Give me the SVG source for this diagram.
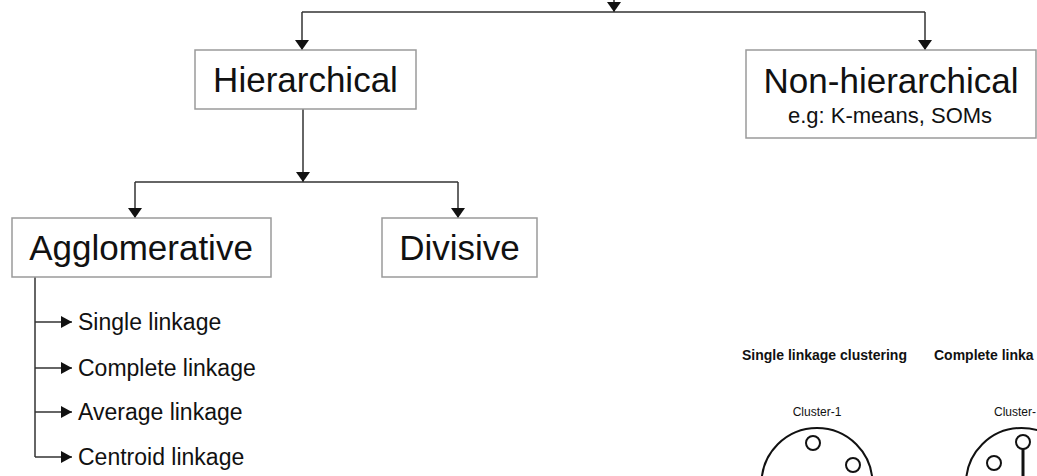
<svg xmlns="http://www.w3.org/2000/svg" width="1037" height="476" viewBox="0 0 1037 476">
<style>
.box{fill:#fff;stroke:#9a9a9a;stroke-width:1.5}
.t{font-family:"Liberation Sans",Arial,sans-serif;fill:#111}
.big{font-size:35px;text-anchor:middle}
.sub{font-size:22px;text-anchor:middle}
.li{font-size:23px}
.hd{font-size:14px;font-weight:bold}
.cl{font-size:12px;text-anchor:middle}
.c{fill:none;stroke:#333;stroke-width:1.5}
.ring{fill:none;stroke:#111;stroke-width:2}
</style>
<defs>
<marker id="ah" markerUnits="userSpaceOnUse" viewBox="0 0 10 14" refX="10" refY="7" markerWidth="10" markerHeight="14" orient="auto">
<path d="M0,0 L10,7 L0,14 z" fill="#111"/>
</marker>
<marker id="ahs" markerUnits="userSpaceOnUse" viewBox="0 0 11 12" refX="11" refY="6" markerWidth="11" markerHeight="12" orient="auto">
<path d="M0,0 L11,6 L0,12 z" fill="#111"/>
</marker>
</defs>
<rect width="1037" height="476" fill="#fff"/>
<g id="connectors">
<path class="c" d="M614,-4 V12" marker-end="url(#ah)"/>
<path class="c" d="M302,12 H925"/>
<path class="c" d="M302,12 V50" marker-end="url(#ah)"/>
<path class="c" d="M925,12 V50" marker-end="url(#ah)"/>
<path class="c" d="M303,109 V182" marker-end="url(#ah)"/>
<path class="c" d="M135,182 H458"/>
<path class="c" d="M135,182 V218" marker-end="url(#ah)"/>
<path class="c" d="M458,182 V218" marker-end="url(#ah)"/>
<path class="c" d="M35,277 V457"/>
<path class="c" d="M35,322 H72" marker-end="url(#ahs)"/>
<path class="c" d="M35,368 H72" marker-end="url(#ahs)"/>
<path class="c" d="M35,412 H72" marker-end="url(#ahs)"/>
<path class="c" d="M35,457 H72" marker-end="url(#ahs)"/>
</g>
<g id="hierarchical">
<rect class="box" x="195" y="50" width="221" height="59"/>
<text class="t big" x="305.5" y="92">Hierarchical</text>
</g>
<g id="non-hierarchical">
<rect class="box" x="746" y="50" width="290" height="88"/>
<text class="t big" x="891" y="93">Non-hierarchical</text>
<text class="t sub" x="890" y="123">e.g: K-means, SOMs</text>
</g>
<g id="agglomerative">
<rect class="box" x="12" y="218" width="259" height="59"/>
<text class="t big" x="141" y="260">Agglomerative</text>
</g>
<g id="divisive">
<rect class="box" x="382" y="218" width="155" height="59"/>
<text class="t big" x="459.5" y="260">Divisive</text>
</g>
<g id="linkages">
<text class="t li" x="78" y="330">Single linkage</text>
<text class="t li" x="78" y="376">Complete linkage</text>
<text class="t li" x="78" y="420">Average linkage</text>
<text class="t li" x="78" y="465">Centroid linkage</text>
</g>
<g id="single-linkage-illustration">
<text class="t hd" x="742" y="360">Single linkage clustering</text>
<text class="t cl" x="817" y="416">Cluster-1</text>
<circle class="ring" cx="817" cy="483.5" r="55.5"/>
<circle class="ring" cx="813" cy="443" r="7"/>
<circle class="ring" cx="853" cy="465" r="7"/>
</g>
<g id="complete-linkage-illustration">
<text class="t hd" x="934" y="360">Complete linka</text>
<text class="t cl" x="994" y="416" style="text-anchor:start">Cluster-</text>
<circle class="ring" cx="1021.5" cy="483.5" r="55.5"/>
<circle class="ring" cx="1023" cy="442" r="7"/>
<circle class="ring" cx="994" cy="463" r="7"/>
<line x1="1023" y1="449" x2="1023" y2="476" stroke="#111" stroke-width="3"/>
</g>
</svg>
